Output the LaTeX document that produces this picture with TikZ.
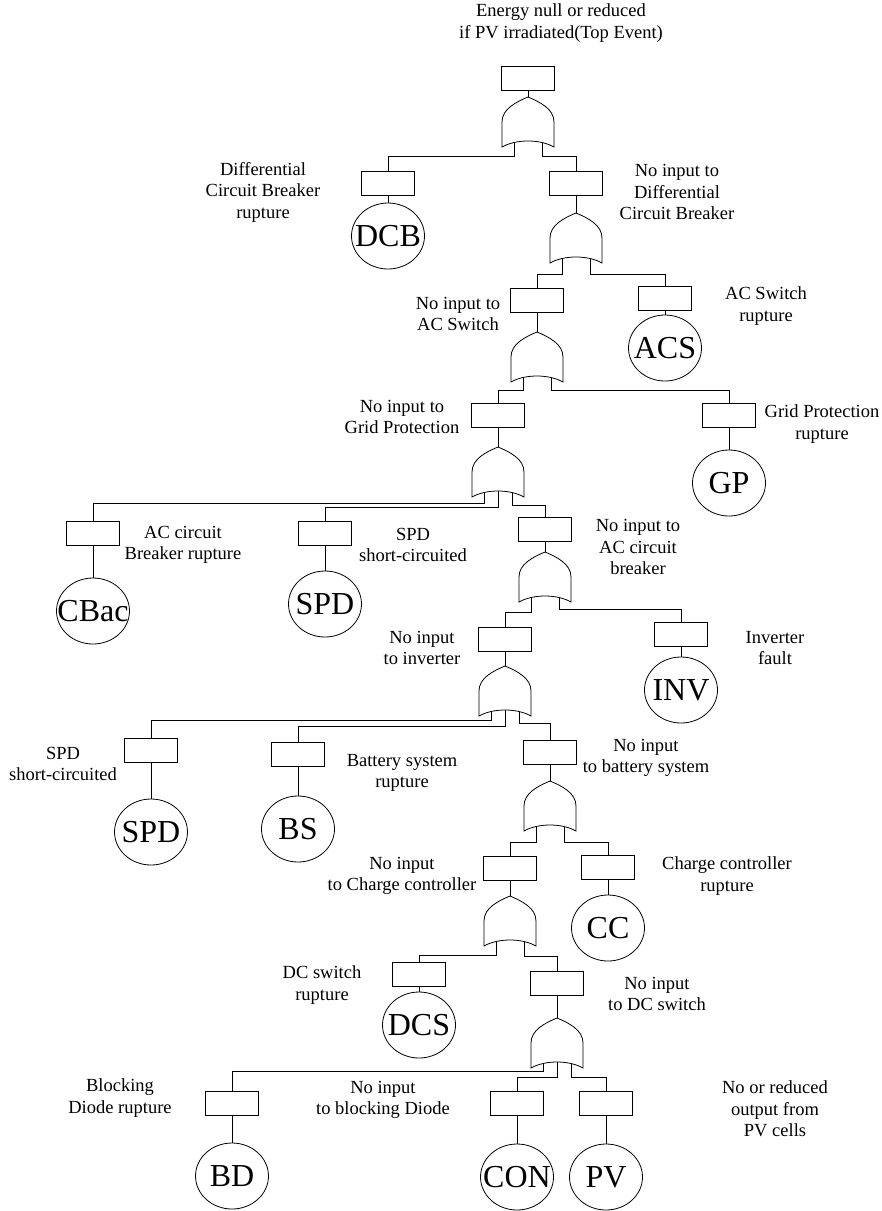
\documentclass[tikz,border=0pt]{standalone}
\usepackage{fontspec}
\setmainfont{Liberation Serif}
\usetikzlibrary{shapes.geometric,positioning}
\newcommand{\lblfont}{\fontsize{18.5}{21.5}\selectfont}
\newcommand{\evfont}{\fontsize{32}{36}\selectfont}
\newcommand{\evt}[1]{\makebox[0pt]{#1}}
\tikzset{
  orgate/.pic={
    \draw (-26,25) .. controls (-26,12) and (-12,5) .. (0,0)
      .. controls (12,5) and (26,12) .. (26,25) -- (26,50)
      .. controls (12,42) and (-12,42) .. (-26,50) -- cycle;
    \coordinate (-in) at (0,0);
    \coordinate (-l) at (-14,46);
    \coordinate (-m) at (0,44);
    \coordinate (-r) at (14,46);
  }
}
\begin{document}
\begin{tikzpicture}[x=1pt, y=-1pt, line width=0.8pt,
  ev/.style={draw, rectangle, minimum width=53pt, minimum height=24pt, inner sep=0pt},
  basic/.style={draw, ellipse, minimum width=73pt, minimum height=66pt, inner sep=0pt, font=\evfont},
  lbl/.style={align=center, font=\lblfont, inner sep=0pt}]
      \useasboundingbox (0,0) rectangle (882,1211);

      \node[lbl] (toplbl) at (561,23) {Energy null or reduced\\if PV irradiated(Top Event)};
      \node[ev] (top) at (528,78) {};
      \pic (g1) at (528,97) {orgate};
      \draw (top) -- (g1-in);

      \node[ev] (dcbev) at (388,183) {};
      \node[basic] (dcb) at (388,236) {\evt{DCB}};
      \node[lbl] (dcblbl) at (263,192) {Differential\\Circuit Breaker\\rupture};
      \draw (g1-l) -- ++(0,13) -| (dcbev.north);
      \draw (dcbev) -- (dcb);

      \node[ev] (nidcb) at (576,183) {};
      \node[lbl] (nidcblbl) at (677,192) {No input to\\Differential\\Circuit Breaker};
      \draw (g1-r) -- ++(0,13) -| (nidcb.north);
      \pic (g2) at (576,213) {orgate};
      \draw (nidcb) -- (g2-in);

      \node[ev] (niacs) at (537,300) {};
      \node[lbl] (niacslbl) at (458,314) {No input to\\AC Switch};
      \draw (g2-l) -- ++(0,15) -| (niacs.north);
      \node[ev] (acsev) at (665,298) {};
      \node[basic] (acs) at (665,348) {\evt{ACS}};
      \node[lbl] (acslbl) at (766,306) {AC Switch\\rupture};
      \draw (g2-r) -- ++(0,15) -| (acsev.north);
      \draw (acsev) -- (acs);

      \pic (g3) at (537,332) {orgate};
      \draw (niacs) -- (g3-in);

      \node[ev] (nigp) at (498,415) {};
      \node[lbl] (nigplbl) at (402,417) {No input to\\Grid Protection};
      \draw (g3-l) -- ++(0,12) -| (nigp.north);
      \node[ev] (gpev) at (729,415) {};
      \node[basic] (gp) at (729,483) {\evt{GP}};
      \node[lbl] (gplbl) at (822,424) {Grid Protection\\rupture};
      \draw (g3-r) -- ++(0,12) -| (gpev.north);
      \draw (gpev) -- (gp);

      \pic (g4) at (498,447) {orgate};
      \draw (nigp) -- (g4-in);

      \node[ev] (cbacev) at (93,533) {};
      \node[basic] (cbac) at (93,611) {\evt{CBac}};
      \node[lbl] (cbaclbl) at (183,545) {AC circuit\\Breaker rupture};
      \draw (g4-l) -- ++(0,10) -| (cbacev.north);
      \draw (cbacev) -- (cbac);
      \node[ev] (spdev) at (325,533) {};
      \node[basic] (spd) at (325,604) {\evt{SPD}};
      \node[lbl] (spdlbl) at (413,545) {SPD\\short-circuited};
      \draw (g4-m) -- ++(0,16) -| (spdev.north);
      \draw (spdev) -- (spd);
      \node[ev] (nicb) at (545,529) {};
      \node[lbl] (nicblbl) at (638,547) {No input to\\AC circuit\\breaker};
      \draw (g4-r) -- ++(0,12) -| (nicb.north);

      \pic (g5) at (545,552) {orgate};
      \draw (nicb) -- (g5-in);

      \node[ev] (niinv) at (505,639) {};
      \node[lbl] (niinvlbl) at (422,648) {No input\\to inverter};
      \draw (g5-l) -- ++(0,14) -| (niinv.north);
      \node[ev] (invev) at (681,634) {};
      \node[basic] (inv) at (681,690) {\evt{INV}};
      \node[lbl] (invlbl) at (775,648) {Inverter\\fault};
      \draw (g5-r) -- ++(0,11) -| (invev.north);
      \draw (invev) -- (inv);

      \pic (g6) at (505,666) {orgate};
      \draw (niinv) -- (g6-in);

      \node[ev] (spdbev) at (151,750) {};
      \node[basic] (spdb) at (151,832) {\evt{SPD}};
      \node[lbl] (spdblbl) at (63,764) {SPD\\short-circuited};
      \draw (g6-l) -- ++(0,8) -| (spdbev.north);
      \draw (spdbev) -- (spdb);
      \node[ev] (bsev) at (298,754) {};
      \node[basic] (bs) at (298,829) {\evt{BS}};
      \node[lbl] (bslbl) at (402,773) {Battery system\\rupture};
      \draw (g6-m) -- ++(0,16) -| (bsev.north);
      \draw (bsev) -- (bs);
      \node[ev] (nibs) at (550,752) {};
      \node[lbl] (nibslbl) at (646,758) {No input\\to battery system};
      \draw (g6-r) -- ++(0,11) -| (nibs.north);

      \pic (g7) at (550,781) {orgate};
      \draw (nibs) -- (g7-in);

      \node[ev] (nicc) at (510,868) {};
      \node[lbl] (nicclbl) at (402,876) {No input\\to Charge controller};
      \draw (g7-l) -- ++(0,15) -| (nicc.north);
      \node[ev] (ccev) at (608,867) {};
      \node[basic] (cc) at (608,928) {\evt{CC}};
      \node[lbl] (cclbl) at (727,876) {Charge controller\\rupture};
      \draw (g7-r) -- ++(0,15) -| (ccev.north);
      \draw (ccev) -- (cc);

      \pic (g8) at (510,896) {orgate};
      \draw (nicc) -- (g8-in);

      \node[ev] (dcsev) at (419,974) {};
      \node[basic] (dcs) at (419,1025) {\evt{DCS}};
      \node[lbl] (dcslbl) at (322,985) {DC switch\\rupture};
      \draw (g8-l) -- ++(0,13) -| (dcsev.north);
      \draw (dcsev) -- (dcs);
      \node[ev] (nidcs) at (557,983) {};
      \node[lbl] (nidcslbl) at (657,994) {No input\\to DC switch};
      \draw (g8-r) -- ++(0,14) -| (nidcs.north);

      \pic (g9) at (557,1018) {orgate};
      \draw (nidcs) -- (g9-in);

      \node[ev] (bdev) at (232,1103) {};
      \node[basic] (bd) at (232,1176) {\evt{BD}};
      \node[lbl] (bdlbl) at (120,1098) {Blocking\\Diode rupture};
      \draw (g9-l) -- ++(0,7) -| (bdev.north);
      \draw (bdev) -- (bd);
      \node[lbl] (nibdlbl) at (383,1100) {No input\\to blocking Diode};
      \node[ev] (conev) at (517,1103) {};
      \node[basic] (con) at (517,1177) {\evt{CON}};
      \draw (g9-m) -- ++(0,15) -| (conev.north);
      \draw (conev) -- (con);
      \node[ev] (pvev) at (606,1103) {};
      \node[basic] (pv) at (606,1177) {\evt{PV}};
      \node[lbl] (pvlbl) at (775,1109) {No or reduced\\output from\\PV cells};
      \draw (g9-r) -- ++(0,13) -| (pvev.north);
      \draw (pvev) -- (pv);
\end{tikzpicture}
\end{document}
